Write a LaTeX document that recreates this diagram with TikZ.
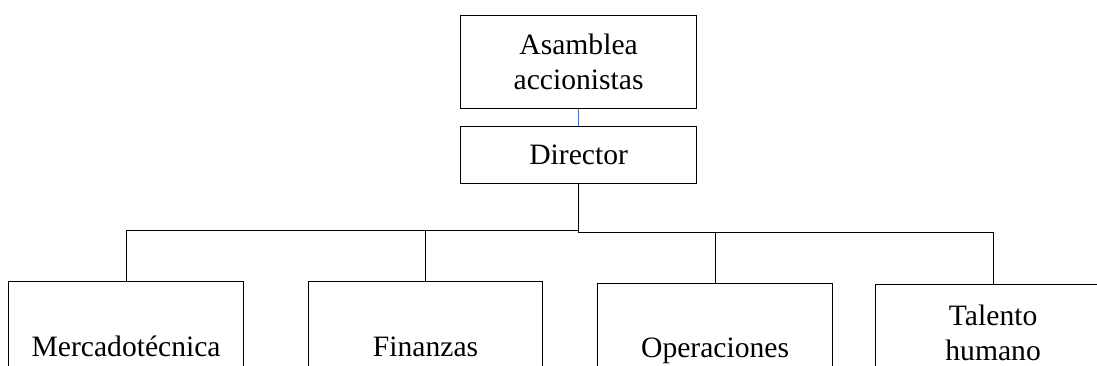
\documentclass[tikz,border=0pt]{standalone}
\usepackage{fontspec}
\setmainfont{Liberation Serif}
\usetikzlibrary{calc}
\begin{document}
\begin{tikzpicture}[x=1pt,y=1pt,
  box/.style={draw, line width=1.2pt, anchor=north west, inner sep=0pt,
              align=center, font=\fontsize{29.6}{35}\selectfont},
  link/.style={line width=1.2pt},
  thinlink/.style={line width=1pt, draw={rgb,255:red,68;green,114;blue,196}}]
\useasboundingbox (0,0) rectangle (1097,-366);
\clip (0,0) rectangle (1097,-366);

% top of the chart
\node[box, minimum width=236, minimum height=93] (asm) at (460,-15) {Asamblea\\accionistas};
\node[box, minimum width=236, minimum height=57] (dir) at (460,-126) {Director};

% departments (their lower edges run past the page)
\node[box, minimum width=235, minimum height=130] (merc) at (8,-281) {Mercadotécnica};
\node[box, minimum width=234, minimum height=130] (fin) at (308,-281) {Finanzas};
\node[box, minimum width=235, minimum height=134] (ope) at (597,-283) {Operaciones};
\node[box, minimum width=235, minimum height=96] (tal) at (875,-284) {Talento\\humano};

% junction points below the director
\coordinate (jl) at ($(dir.south)+(0,-46.5)$);
\coordinate (jr) at ($(dir.south)+(0,-48.5)$);

\draw[thinlink] (asm.south) -- (dir.north);
\draw[link] (dir.south) -- (jr);
\draw[link] (merc.north) |- (jl);
\draw[link] (fin.north) -- (fin.north |- jl);
\draw[link] (ope.north) |- (jr);
\draw[link] (tal.north) |- (jr);
\end{tikzpicture}
\end{document}
